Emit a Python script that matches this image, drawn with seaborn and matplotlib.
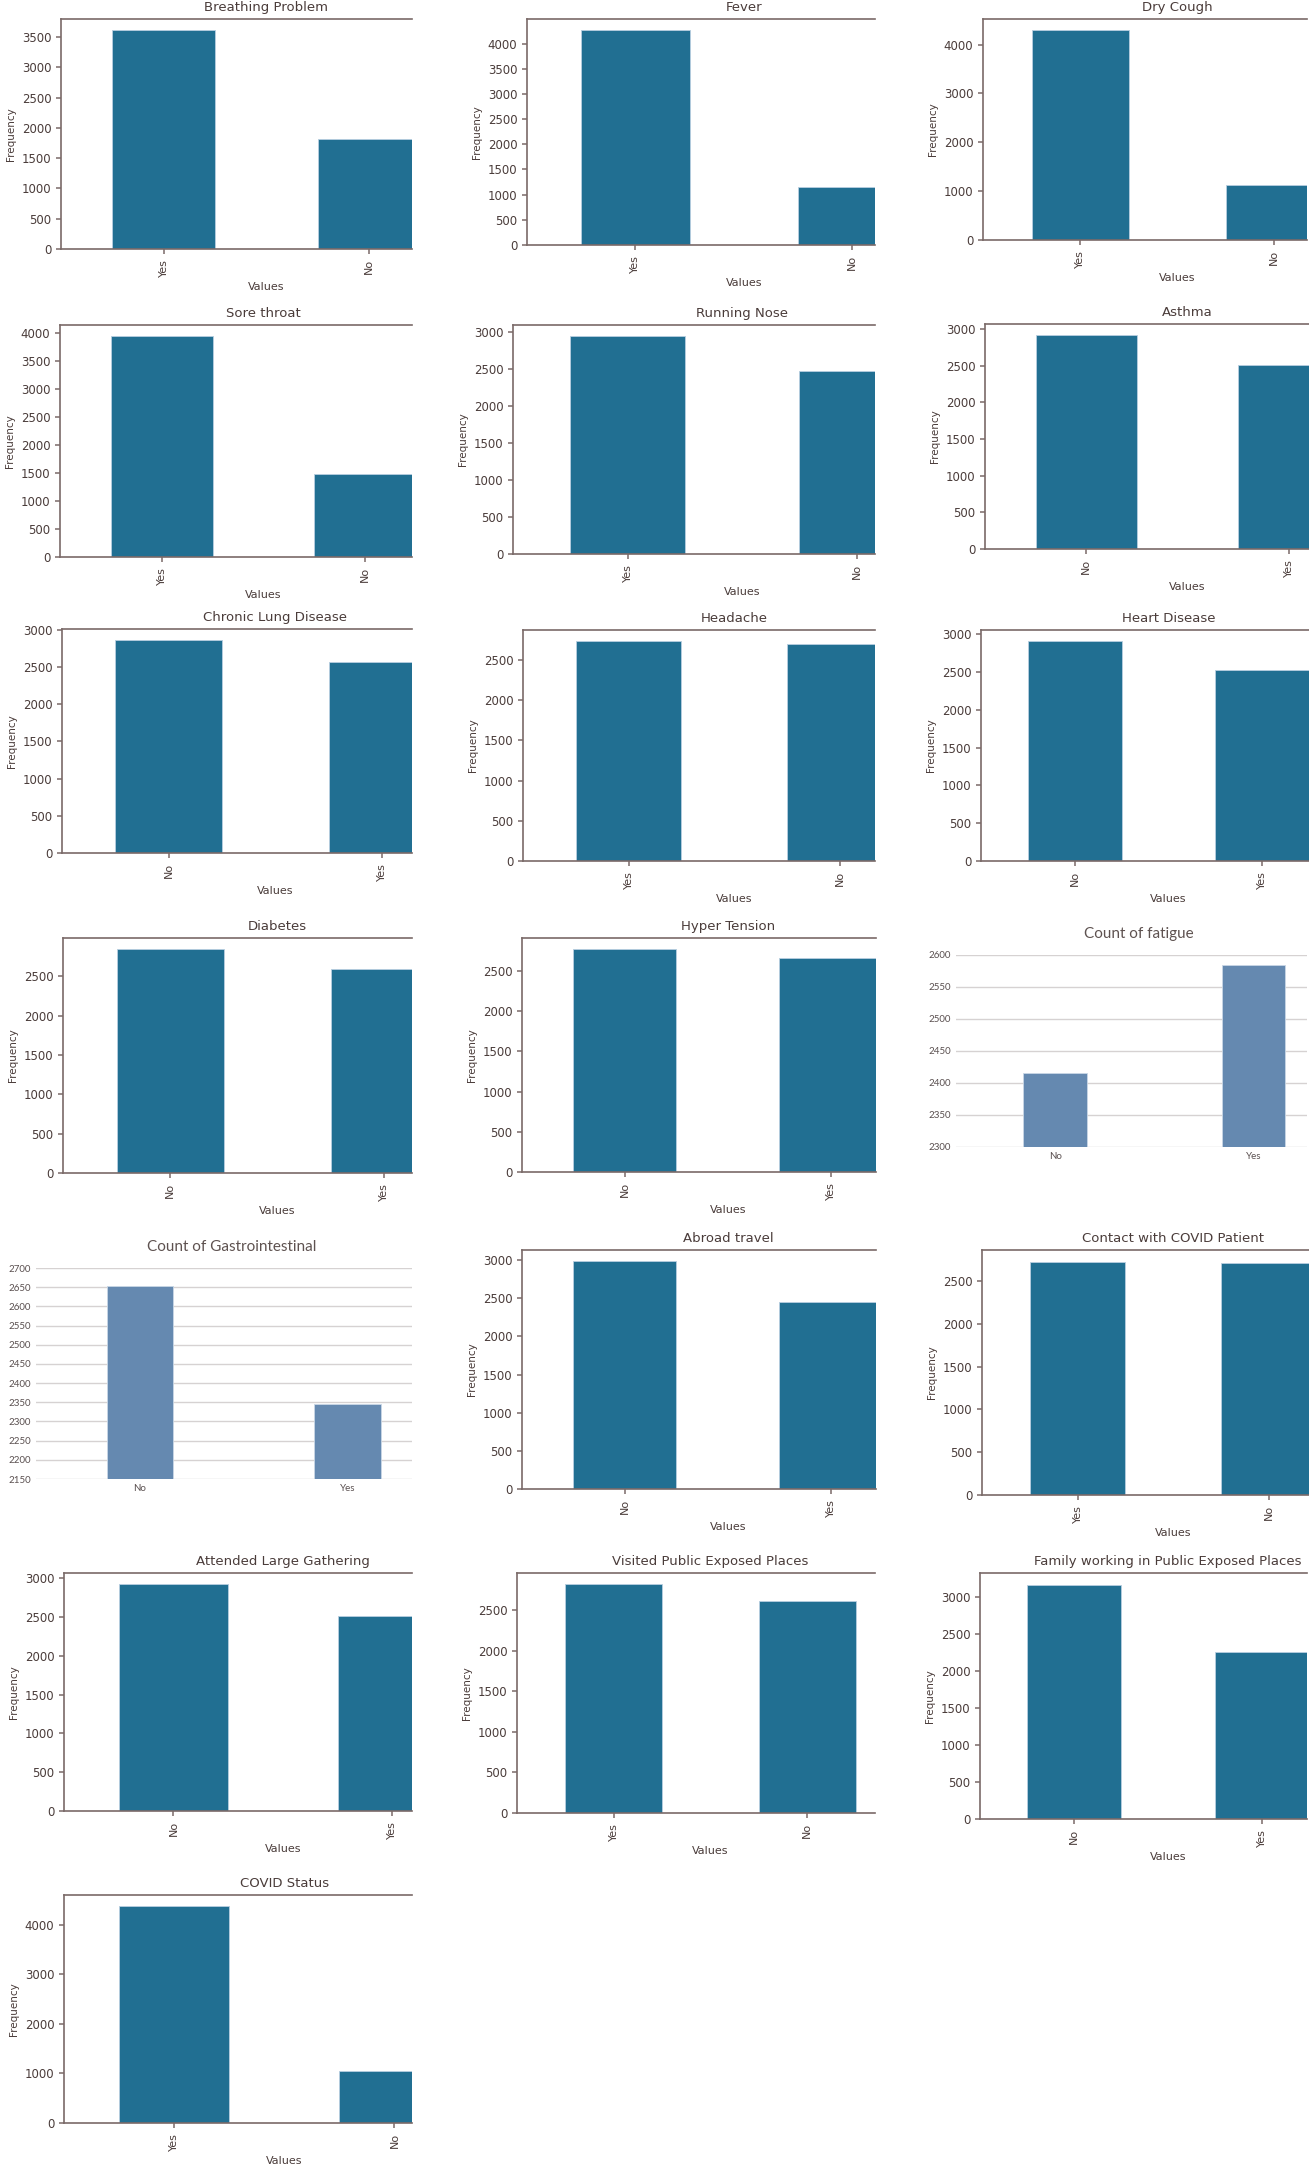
import numpy as np
import matplotlib
matplotlib.use("Agg")
import matplotlib.pyplot as plt
import seaborn as sns

# ---- data (counts per answer) ----
titles = ["Breathing Problem", "Fever", "Dry Cough",
          "Sore throat", "Running Nose", "Asthma",
          "Chronic Lung Disease", "Headache", "Heart Disease",
          "Diabetes", "Hyper Tension", "Count of fatigue",
          "Count of Gastrointestinal", "Abroad travel", "Contact with COVID Patient",
          "Attended Large Gathering", "Visited Public Exposed Places",
          "Family working in Public Exposed Places",
          "COVID Status"]
answers = [["Yes", "No"], ["Yes", "No"], ["Yes", "No"],
           ["Yes", "No"], ["Yes", "No"], ["No", "Yes"],
           ["No", "Yes"], ["Yes", "No"], ["No", "Yes"],
           ["No", "Yes"], ["No", "Yes"], ["No", "Yes"],
           ["No", "Yes"], ["No", "Yes"], ["Yes", "No"],
           ["No", "Yes"], ["Yes", "No"], ["No", "Yes"],
           ["Yes", "No"]]
counts = [[3620, 1814], [4273, 1161], [4307, 1127],
          [3953, 1481], [2952, 2482], [2920, 2514],
          [2869, 2565], [2736, 2698], [2911, 2523],
          [2846, 2588], [2771, 2663], [2415, 2584],
          [2653, 2346], [2983, 2451], [2726, 2708],
          [2924, 2510], [2820, 2614], [3172, 2262],
          [4383, 1051]]
# the two panels that come from a spreadsheet chart
excel_panels = {"Count of fatigue": (2300, 2600), "Count of Gastrointestinal": (2150, 2700)}

# ---- layout: (left, top, right, bottom) in pixels, and right x-limit (panels are cropped) ----
W, H = 1309, 2164
boxes = [(61, 19, 412, 249), (527, 19, 875, 245), (983, 19, 1307, 240),
         (60, 325, 412, 557), (513, 325, 875, 554), (985, 324, 1309, 549),
         (62, 629, 412, 853), (523, 630, 875, 861), (981, 630, 1309, 861),
         (63, 938, 412, 1173), (522, 938, 876, 1172), (956, 955, 1307, 1147),
         (36, 1268, 412, 1479), (522, 1250, 876, 1489), (982, 1250, 1309, 1495),
         (64, 1573, 412, 1811), (517, 1573, 875, 1813), (980, 1573, 1307, 1819),
         (64, 1895, 412, 2123)]
xright = [1.21, 1.105, 1.17, 1.23, 1.08, 1.10, 1.14, 1.166, 1.25, 1.13, 1.22, 1.27,
          1.31, 1.22, 1.21, 1.09, 1.35, 1.24, 1.08]

TEXT = "#4a3c3a"
SPINE = "#7a6a68"
BAR = "#216f92"
XL_BAR = "#6589b0"

plt.rcParams.update({
    "text.color": TEXT, "axes.labelcolor": TEXT,
    "xtick.color": SPINE, "ytick.color": SPINE,
    "xtick.labelcolor": TEXT, "ytick.labelcolor": TEXT,
    "axes.edgecolor": SPINE, "axes.linewidth": 1.2,
})

fig = plt.figure(figsize=(W / 100, H / 100), dpi=100)

for title, cats, vals, (l, t, r, b), xr in zip(titles, answers, counts, boxes, xright):
    ax = fig.add_axes([l / W, 1 - b / H, (r - l) / W, (b - t) / H])
    if title in excel_panels:
        sns.barplot(x=cats, y=vals, color=XL_BAR, width=0.32, saturation=1,
                    edgecolor="#c9d7e6", linewidth=0.6, ax=ax)
        lo, hi = excel_panels[title]
        ax.set_ylim(lo, hi)
        ax.set_yticks(np.arange(lo, hi + 1, 50))
        ax.set_xlim(-0.5, xr)
        for s in ax.spines.values():
            s.set_visible(False)
        ax.grid(axis="y", color="#d6d2d2", linewidth=1.0)
        ax.set_axisbelow(True)
        ax.tick_params(length=0, labelsize=7, labelcolor="#5a5050")
        for lab in ax.get_xticklabels() + ax.get_yticklabels():
            lab.set_family("Lato")
        ax.set_title(title, fontsize=11, color="#5e5250", family="Lato", pad=12,
                     x=0.52)
        ax.set_xlabel("")
        ax.set_ylabel("")
        continue

    sns.barplot(x=cats, y=vals, color=BAR, width=0.5, saturation=1,
                edgecolor="#b8cfe0", linewidth=0.6, ax=ax)
    ax.set_xlim(-0.5, xr)
    ax.spines["right"].set_visible(False)
    ax.tick_params(axis="x", rotation=90, labelsize=8, length=3.5, width=1.1)
    ax.tick_params(axis="y", labelsize=8.5, length=3.5, width=1.1)
    frac = 1.0 / (xr + 0.5)  # centre of the uncropped plot
    ax.set_title(title, fontsize=9.5, x=frac)
    ax.set_xlabel("Values", fontsize=8, x=frac)
    ax.set_ylabel("Frequency", fontsize=7.5)

plt.savefig("out.png", dpi=100)
plt.close()
